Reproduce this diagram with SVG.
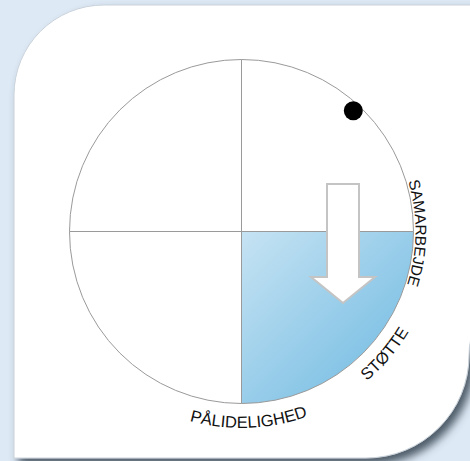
<svg xmlns="http://www.w3.org/2000/svg" width="470" height="461" viewBox="0 0 470 461">
  <defs>
    <style>
      .grid { stroke: #9a9a9a; stroke-width: 1; fill: none; }
      .lbl { font-family: "Liberation Sans", Arial, sans-serif; font-size: 16.5px; fill: #111; }
    </style>
    <linearGradient id="blueGrad" x1="241.5" y1="231.5" x2="400" y2="390" gradientUnits="userSpaceOnUse">
      <stop offset="0" stop-color="#c6e3f3"/>
      <stop offset="1" stop-color="#72bbe2"/>
    </linearGradient>
    <filter id="shadow" x="-10%" y="-10%" width="130%" height="130%">
      <feGaussianBlur in="SourceAlpha" stdDeviation="4"/>
      <feOffset dx="5" dy="6" result="b"/>
      <feFlood flood-color="#34424f" flood-opacity="0.85"/>
      <feComposite in2="b" operator="in"/>
      <feMerge>
        <feMergeNode/>
        <feMergeNode in="SourceGraphic"/>
      </feMerge>
    </filter>
    <path id="pSam" d="M329.81,81.58 A174,174 0 0 1 327.18,382.95"/>
    <path id="pSto" d="M205.97,423.24 A195,195 0 0 0 425.31,166.41"/>
    <path id="pPal" d="M75.3,336.2 A196.5,196.5 0 0 0 415.3,323.1"/>
  </defs>

  <rect x="0" y="0" width="470" height="461" fill="#dde9f5"/>

  <g id="card">
    <path d="M14,95 A90,90 0 0 1 104,5 L485,5 L485,300 C478,320 469,335 469,355 A103,103 0 0 1 366,458 L14,458 Z" fill="#ffffff" stroke="#c9d2db" stroke-width="1" filter="url(#shadow)"/>
  </g>

  <g id="quadrant-fill">
    <path d="M241.5,231.5 L413.5,231.5 A172,172 0 0 1 241.5,403.5 Z" fill="url(#blueGrad)"/>
  </g>

  <g id="wheel">
    <circle cx="241.5" cy="231.5" r="172" class="grid"/>
    <line x1="241.5" y1="59.5" x2="241.5" y2="403.5" class="grid"/>
    <line x1="69.5" y1="231.5" x2="413.5" y2="231.5" class="grid"/>
  </g>

  <g id="arrow">
    <polygon points="327,184 359,184 359,277 375,277 343,303 311,277 327,277" fill="#ffffff" stroke="#c4c4c4" stroke-width="2" stroke-linejoin="miter"/>
  </g>

  <g id="dot">
    <circle cx="353.3" cy="110.7" r="9.5" fill="#000000"/>
  </g>

  <g id="label-samarbejde">
    <text class="lbl" style="font-size:15.5px"><textPath href="#pSam" startOffset="50%" text-anchor="middle">SAMARBEJDE</textPath></text>
  </g>
  <g id="label-stotte">
    <text class="lbl"><textPath href="#pSto" startOffset="50%" text-anchor="middle">STØTTE</textPath></text>
  </g>
  <g id="label-palidelighed">
    <text class="lbl"><textPath href="#pPal" startOffset="50%" text-anchor="middle">PÅLIDELIGHED</textPath></text>
  </g>
</svg>
